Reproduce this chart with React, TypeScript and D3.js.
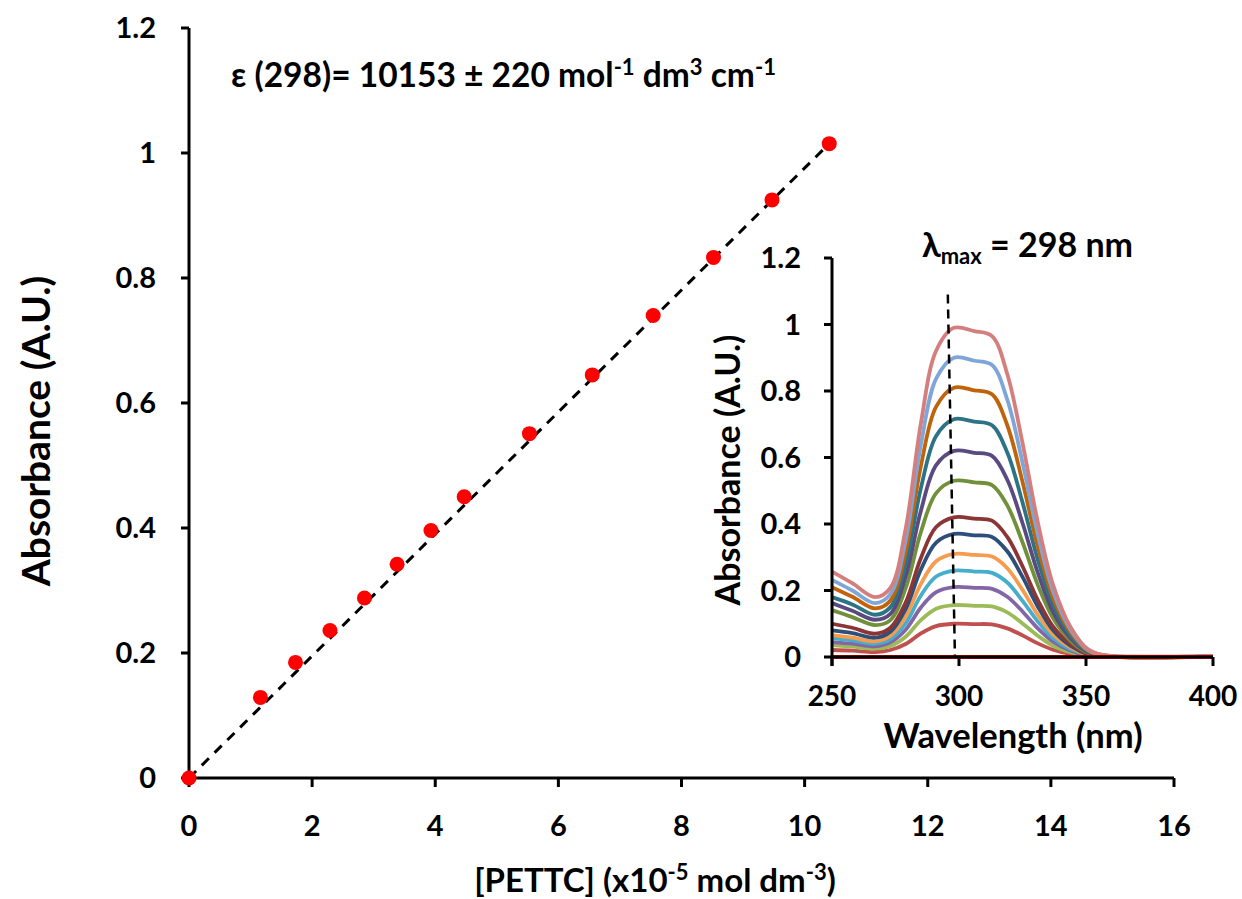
import React from 'react';
import * as d3 from 'd3';

// main calibration plot
const concentration = [0, 1.16, 1.73, 2.29, 2.85, 3.38, 3.93, 4.47, 5.53, 6.55, 7.54, 8.52, 9.47, 10.4];
const absorbance = [0, 0.129, 0.185, 0.236, 0.288, 0.342, 0.396, 0.45, 0.551, 0.645, 0.74, 0.833, 0.925, 1.015];
const trendX = [0, 10.4];
const trendY = [0, 1.015];
const mainXTicks = [0, 2, 4, 6, 8, 10, 12, 14, 16];
const mainYTicks = [0, 0.2, 0.4, 0.6, 0.8, 1, 1.2];

// inset UV-vis spectra
const wavelengths = [250, 258, 267, 273, 279, 285, 291, 298, 306, 313, 319, 325, 331, 337, 344, 351, 360, 400];
const spec1 = [0.257, 0.222, 0.18, 0.208, 0.386, 0.703, 0.921, 0.99, 0.98, 0.965, 0.851, 0.644, 0.406, 0.218, 0.089, 0.022, 0.003, 0.003];
const spec2 = [0.232, 0.2, 0.162, 0.189, 0.351, 0.639, 0.837, 0.9, 0.891, 0.878, 0.774, 0.585, 0.369, 0.198, 0.081, 0.02, 0.003, 0.003];
const spec3 = [0.21, 0.181, 0.146, 0.17, 0.316, 0.575, 0.753, 0.81, 0.802, 0.79, 0.697, 0.527, 0.332, 0.178, 0.073, 0.018, 0.002, 0.002];
const spec4 = [0.18, 0.158, 0.127, 0.15, 0.279, 0.508, 0.665, 0.715, 0.708, 0.697, 0.615, 0.465, 0.293, 0.157, 0.064, 0.016, 0.002, 0.002];
const spec5 = [0.162, 0.139, 0.112, 0.13, 0.242, 0.44, 0.577, 0.62, 0.614, 0.605, 0.533, 0.403, 0.254, 0.136, 0.056, 0.014, 0.002, 0.002];
const spec6 = [0.141, 0.12, 0.096, 0.111, 0.207, 0.376, 0.493, 0.53, 0.525, 0.517, 0.456, 0.345, 0.217, 0.117, 0.048, 0.012, 0.001, 0.001];
const spec7 = [0.1, 0.088, 0.07, 0.088, 0.164, 0.298, 0.391, 0.42, 0.416, 0.41, 0.361, 0.273, 0.172, 0.092, 0.038, 0.009, 0.001, 0.001];
const spec8 = [0.08, 0.072, 0.058, 0.076, 0.144, 0.263, 0.344, 0.37, 0.366, 0.361, 0.318, 0.241, 0.152, 0.081, 0.033, 0.008, 0.001, 0.001];
const spec9 = [0.066, 0.058, 0.047, 0.064, 0.121, 0.22, 0.288, 0.31, 0.307, 0.302, 0.267, 0.202, 0.127, 0.068, 0.028, 0.007, 0.001, 0.001];
const spec10 = [0.057, 0.05, 0.04, 0.054, 0.101, 0.185, 0.242, 0.26, 0.257, 0.253, 0.224, 0.169, 0.107, 0.057, 0.023, 0.006, 0.001, 0.001];
const spec11 = [0.045, 0.04, 0.032, 0.044, 0.082, 0.149, 0.195, 0.21, 0.208, 0.205, 0.181, 0.137, 0.086, 0.046, 0.019, 0.005, 0.001, 0.001];
const spec12 = [0.036, 0.031, 0.025, 0.033, 0.061, 0.111, 0.145, 0.156, 0.154, 0.152, 0.134, 0.101, 0.064, 0.034, 0.014, 0.003, 0.001, 0.001];
const spec13 = [0.021, 0.019, 0.015, 0.021, 0.039, 0.071, 0.093, 0.1, 0.099, 0.098, 0.086, 0.065, 0.041, 0.022, 0.009, 0.002, 0.001, 0.001];
const blank = [0, 0, 0, 0, 0, 0, 0, 0, 0, 0, 0, 0, 0, 0, 0, 0, 0, 0];
const spectra = [spec13, spec12, spec11, spec10, spec9, spec8, spec7, spec6, spec5, spec4, spec3, spec2, spec1, blank];
const spectraColors = ['#C0504D', '#9BBB59', '#8366A6', '#46AECB', '#F59C4E', '#2D4F7A', '#8B3534',
  '#71903A', '#5A4A80', '#2C7385', '#C0640C', '#7FA6D8', '#D47F7E', '#FF0000'];
const lambdaLineX = [295.6, 298.4];
const lambdaLineY = [1.09, 0];
const insetXTicks = [250, 300, 350, 400];
const insetYTicks = [0, 0.2, 0.4, 0.6, 0.8, 1, 1.2];

const font = "Lato, 'Open Sans', sans-serif";

export default function App() {
  const width = 1242;
  const height = 899;

  const x = d3.scaleLinear().domain([0, 16]).range([189, 1174]);
  const y = d3.scaleLinear().domain([0, 1.2]).range([778, 28]);

  const ix = d3.scaleLinear().domain([250, 400]).range([832, 1213]);
  const iy = d3.scaleLinear().domain([0, 1.2]).range([657, 258]);

  const trend = d3.line<number>()
    .x((d, i) => x(trendX[i]))
    .y(d => y(d));

  const specLine = d3.line<number>()
    .x((d, i) => ix(wavelengths[i]))
    .y(d => Math.min(iy(d), iy(0)))
    .curve(d3.curveCatmullRom.alpha(0.5));

  const lambdaLine = d3.line<number>()
    .x((d, i) => ix(lambdaLineX[i]))
    .y(d => iy(d));

  return (
    <svg width={width} height={height} style={{ position: 'absolute', left: 0, top: 0, background: '#fff' }}
      fontFamily={font} fontWeight="bold" fill="#000">
      <rect width={width} height={height} fill="#fff" />

      {/* main axes */}
      <g stroke="#000" strokeWidth={3}>
        <line x1={x(0)} x2={x(0)} y1={y(1.2)} y2={y(0)} />
        <line x1={x(0)} x2={x(16)} y1={y(0)} y2={y(0)} />
        {mainYTicks.map(t => <line key={'my' + t} x1={x(0) - 8} x2={x(0)} y1={y(t)} y2={y(t)} />)}
        {mainXTicks.map(t => <line key={'mx' + t} x1={x(t)} x2={x(t)} y1={y(0)} y2={y(0) + 9} />)}
      </g>
      {mainYTicks.map(t => (
        <text key={'myl' + t} x={156} y={y(t)} dy="0.36em" textAnchor="end" fontSize={29}>{String(t)}</text>
      ))}
      {mainXTicks.map(t => (
        <text key={'mxl' + t} x={x(t)} y={836} textAnchor="middle" fontSize={29}>{String(t)}</text>
      ))}

      <text transform="translate(50,431) rotate(-90)" textAnchor="middle" fontSize={39}>Absorbance (A.U.)</text>
      <text x={655} y={892} textAnchor="middle" fontSize={33}>
        [PETTC] (x10<tspan dy={-12} fontSize={22}>-5</tspan><tspan dy={12}> mol dm</tspan>
        <tspan dy={-12} fontSize={22}>-3</tspan><tspan dy={12}>)</tspan>
      </text>
      <text x={231} y={87} fontSize={33.5}>
        ε (298)= 10153 ± 220 mol<tspan dy={-12} fontSize={22}>-1</tspan><tspan dy={12}> dm</tspan>
        <tspan dy={-12} fontSize={22}>3</tspan><tspan dy={12}> cm</tspan>
        <tspan dy={-12} fontSize={22}>-1</tspan>
      </text>

      <path d={trend(trendY) ?? ''} fill="none" stroke="#000" strokeWidth={3} strokeDasharray="10 8" />
      {concentration.map((c, i) => (
        <circle key={'pt' + i} cx={x(c)} cy={y(absorbance[i])} r={7.5} fill="#FF0000" />
      ))}

      {/* inset */}
      <g>
        {spectra.map((s, i) => (
          <path key={'sp' + i} d={specLine(s) ?? ''} fill="none" stroke={spectraColors[i]} strokeWidth={3.8}
            strokeLinejoin="round" />
        ))}
        <path d={lambdaLine(lambdaLineY) ?? ''} fill="none" stroke="#000" strokeWidth={2.5} strokeDasharray="9 6" />
        <g stroke="#000" strokeWidth={3}>
          <line x1={ix(250)} x2={ix(250)} y1={iy(1.2)} y2={iy(0) + 9} />
          <line x1={ix(250)} x2={ix(400)} y1={iy(0)} y2={iy(0)} />
          {insetYTicks.map(t => <line key={'iy' + t} x1={ix(250) - 8} x2={ix(250)} y1={iy(t)} y2={iy(t)} />)}
          {insetXTicks.map(t => <line key={'ix' + t} x1={ix(t)} x2={ix(t)} y1={iy(0)} y2={iy(0) + 9} />)}
        </g>
        {insetYTicks.map(t => (
          <text key={'iyl' + t} x={801} y={iy(t)} dy="0.36em" textAnchor="end" fontSize={29}>{String(t)}</text>
        ))}
        {insetXTicks.map(t => (
          <text key={'ixl' + t} x={ix(t)} y={706} textAnchor="middle" fontSize={28}>{String(t)}</text>
        ))}
        <text x={1013} y={748} textAnchor="middle" fontSize={34.5}>Wavelength (nm)</text>
        <text transform="translate(740,470) rotate(-90)" textAnchor="middle" fontSize={34}>Absorbance (A.U.)</text>
        <text x={922} y={257} fontSize={34}>
          λ<tspan dy={7} fontSize={22}>max</tspan><tspan dy={-7}> = 298 nm</tspan>
        </text>
      </g>
    </svg>
  );
}
